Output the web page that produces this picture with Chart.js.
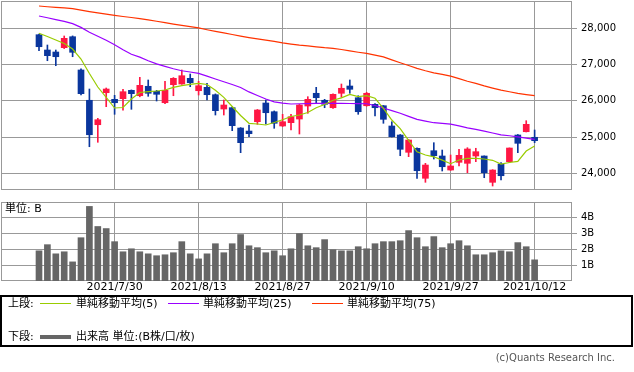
<!DOCTYPE html>
<html lang="ja">
<head>
<meta charset="utf-8">
<title>日足チャート</title>
<script src="https://cdn.jsdelivr.net/npm/chart.js@4.4.1/dist/chart.umd.min.js"></script>
<style>
    body { margin: 0; background: #fff; }
    #wrap {
        position: relative; width: 634px; height: 372px; overflow: hidden;
        font-family: "DejaVu Sans", "Noto Sans CJK JP", sans-serif;
    }
    #wrap canvas { position: absolute; left: 0; }
    .txt { position: absolute; font-size: 11px; line-height: 13px; color: #000; white-space: nowrap; }
    .ln { position: absolute; width: 31px; left: 40px; }
    #legendBox {
        position: absolute; left: 0; top: 295px; width: 633px; height: 52px;
        border: 2px solid #000; box-sizing: border-box;
    }
</style>
</head>
<body>
<div id="wrap">
    <canvas id="priceChart" width="634" height="191" style="top:0"></canvas>
    <canvas id="volumeChart" width="634" height="105" style="top:190px"></canvas>

    <div class="txt" style="left:5px; top:202px;">単位: B</div>

    <div id="legendBox"></div>
    <div class="txt" style="left:8px; top:297px;">上段:</div>
    <div class="ln" style="top:303px; height:1px; background:#99cc00;"></div>
    <div class="txt" style="left:76px; top:297px;">単純移動平均(5)</div>
    <div class="ln" style="left:168px; top:303px; height:1px; background:#9900ff;"></div>
    <div class="txt" style="left:203px; top:297px;">単純移動平均(25)</div>
    <div class="ln" style="left:312px; top:303px; height:1px; background:#ff3300;"></div>
    <div class="txt" style="left:347px; top:297px;">単純移動平均(75)</div>

    <div class="txt" style="left:8px; top:330px;">下段:</div>
    <div class="ln" style="top:335px; height:4px; background:#666;"></div>
    <div class="txt" style="left:76px; top:330px;">出来高 単位:(B株/口/枚)</div>

    <div class="txt" style="right:19px; top:351px; font-size:10px; color:#555;">(c)Quants Research Inc.</div>
</div>

<script>
// 四本値 (60本)
const opens = [
    27823, 27401, 27346, 27465, 27768, 26850, 26014, 25340, 26223, 26041,
    26058, 26289, 26140, 26400, 26262, 25947, 26444, 26463, 26620, 26278,
    26372, 26168, 25773, 25810, 25249, 25166, 25423, 25939, 25699, 25305,
    25396, 25497, 25856, 26207, 26014, 25809, 26207, 26408, 26085, 25864,
    25903, 25864, 25305, 25056, 24579, 24689, 23862, 24623, 24477, 24090,
    24303, 24275, 24477, 24477, 23751, 24256, 24320, 25056, 25147, 24993
];
const highs = [
    27843, 27539, 27401, 27788, 27790, 26885, 26325, 25517, 26353, 26151,
    26317, 26300, 26648, 26574, 26289, 26538, 26640, 26850, 26739, 26538,
    26483, 26190, 26022, 25830, 25260, 25332, 25760, 26022, 25720, 25627,
    25627, 25900, 26113, 26372, 26041, 26190, 26463, 26574, 26140, 26234,
    25920, 25870, 25423, 25070, 24930, 24700, 24275, 24844, 24642, 24504,
    24662, 24706, 24690, 24480, 24100, 24292, 24700, 25070, 25451, 25194
];
const lows = [
    27382, 27106, 26968, 27440, 27216, 26160, 24733, 24855, 25837, 25627,
    25738, 25765, 26110, 26124, 25994, 25920, 26140, 26455, 26389, 26160,
    26022, 25608, 25608, 25175, 24568, 25009, 25351, 25360, 25241, 25290,
    25194, 25084, 25655, 25931, 25809, 25790, 26096, 26207, 25627, 25850,
    25580, 25379, 25000, 24485, 24458, 23861, 23751, 24394, 24063, 24080,
    24201, 24016, 24320, 23878, 23649, 23814, 24292, 24568, 25140, 24844
];
const closes = [
    27492, 27244, 27216, 27724, 27338, 26196, 25064, 25478, 26325, 25947,
    26251, 26196, 26427, 26207, 26179, 26289, 26620, 26692, 26499, 26416,
    26168, 25727, 25884, 25313, 24844, 25092, 25746, 25671, 25379, 25423,
    25561, 25884, 26041, 26085, 25903, 26179, 26345, 26317, 25699, 26207,
    25809, 25489, 25009, 24662, 24918, 24071, 24228, 24485, 24181, 24201,
    24496, 24670, 24596, 24016, 24090, 23933, 24697, 24827, 25351, 24899
];

// 移動平均 (画面から読み取り)
const ma5 = [
    27862, 27774, 27677, 27581, 27429, 27153, 26753, 26380, 26091, 25801,
    25815, 26049, 26229, 26251, 26270, 26298, 26372, 26416, 26455, 26483,
    26449, 26289, 26096, 25842, 25594, 25379, 25360, 25332, 25401, 25476,
    25567, 25608, 25677, 25809, 25898, 26016, 26082, 26176, 26116, 26140,
    26069, 25790, 25470, 25233, 24907, 24593, 24504, 24455, 24364, 24264,
    24366, 24413, 24413, 24394, 24358, 24256, 24297, 24330, 24615, 24753
];
const ma25 = [
    28339, 28290, 28238, 28190, 28130, 28025, 27890, 27780, 27670, 27545,
    27410, 27285, 27205, 27105, 27020, 26950, 26885, 26828, 26795, 26755,
    26680, 26600, 26525, 26450, 26365, 26245, 26145, 26050, 25970, 25935,
    25912, 25918, 25922, 25928, 25931, 25931, 25928, 25925, 25922, 25918,
    25870, 25800, 25730, 25655, 25570, 25489, 25440, 25395, 25375, 25358,
    25310, 25255, 25210, 25162, 25112, 25062, 25035, 25007, 24970, 24937
];
const ma75 = [
    28615, 28595, 28578, 28562, 28542, 28500, 28460, 28425, 28390, 28355,
    28325, 28298, 28265, 28232, 28195, 28155, 28115, 28080, 28045, 28010,
    27960, 27915, 27875, 27828, 27785, 27745, 27710, 27675, 27637, 27598,
    27565, 27535, 27515, 27490, 27465, 27448, 27415, 27375, 27340, 27308,
    27260, 27210, 27130, 27050, 26975, 26896, 26830, 26770, 26728, 26680,
    26610, 26540, 26480, 26410, 26350, 26295, 26250, 26205, 26170, 26140
];

// 出来高 (単位: B)
const volumes = [
    1.91, 2.30, 1.72, 1.85, 1.21, 2.74, 4.72, 3.45, 3.32, 2.49,
    1.85, 2.04, 1.85, 1.72, 1.60, 1.66, 1.79, 2.49, 1.72, 1.40,
    1.72, 2.36, 1.79, 2.36, 2.94, 2.23, 2.11, 1.79, 1.91, 1.60,
    2.04, 3.00, 2.23, 2.11, 2.62, 1.98, 1.91, 1.91, 2.17, 2.04,
    2.36, 2.49, 2.49, 2.55, 3.19, 2.74, 2.17, 2.81, 2.11, 2.36,
    2.55, 2.23, 1.66, 1.66, 1.79, 1.91, 1.85, 2.43, 2.17, 1.34
];

// 目盛り
const tickIndex = [9, 19, 29, 39, 49, 59];
const tickLabels = ["2021/7/30", "2021/8/13", "2021/8/27", "2021/9/10", "2021/9/27", "2021/10/12"];
const priceTicks = [24000, 25000, 26000, 27000, 28000];
const volumeTicks = [1, 2, 3, 4];

document.addEventListener('DOMContentLoaded', function() {
    const gridColor = "#999999";
    const fontFamily = '"DejaVu Sans", "Noto Sans CJK JP", sans-serif';
    const upColor = "#ff1744";
    const downColor = "#0a369d";

    // x軸の範囲 (左右の余白込み)
    const xMin = -4.524;
    const xMax = 63.45;

    const candleColors = opens.map((o, i) => closes[i] >= opens[i] ? upColor : downColor);
    const toPoints = arr => arr.map((v, i) => ({ x: i, y: v }));

    // 枠線
    const framePlugin = {
        id: 'frame',
        beforeDatasetsDraw(chart) {
            const { ctx, chartArea: a } = chart;
            ctx.save();
            ctx.strokeStyle = gridColor;
            ctx.lineWidth = 1;
            ctx.strokeRect(Math.round(a.left) + 0.5, Math.round(a.top) + 0.5,
                Math.round(a.right - a.left) - 1, Math.round(a.bottom - a.top) - 1);
            ctx.restore();
        }
    };

    const noPad = s => { s.paddingTop = 0; s.paddingBottom = 0; s.paddingLeft = 0; s.paddingRight = 0; };

    const xScale = (showLabels) => ({
        type: 'linear',
        min: xMin,
        max: xMax,
        offset: false,
        afterBuildTicks: s => { s.ticks = tickIndex.map(v => ({ value: v })); },
        afterFit: s => { s.height = showLabels ? 14 : 0; noPad(s); },
        ticks: {
            display: showLabels,
            padding: 0,
            maxRotation: 0,
            autoSkip: false,
            color: "#000",
            font: { family: fontFamily, size: 11 },
            callback: v => tickLabels[tickIndex.indexOf(v)]
        },
        grid: { color: gridColor, drawTicks: false, offset: false },
        border: { display: false }
    });

    // 上段: ローソク足 + 移動平均
    new Chart(document.getElementById("priceChart"), {
        type: "bar",
        data: {
            datasets: [
                { type: "line", data: toPoints(ma5), borderColor: "#99cc00", borderWidth: 1.2, pointRadius: 0, order: 0 },
                { type: "line", data: toPoints(ma25), borderColor: "#9900ff", borderWidth: 1.2, pointRadius: 0, order: 0 },
                { type: "line", data: toPoints(ma75), borderColor: "#ff3300", borderWidth: 1.2, pointRadius: 0, order: 0 },
                {
                    data: opens.map((o, i) => ({ x: i, y: [o, closes[i]] })),
                    backgroundColor: candleColors,
                    barThickness: 6,
                    grouped: false,
                    order: 1
                },
                {
                    data: lows.map((l, i) => ({ x: i, y: [l, highs[i]] })),
                    backgroundColor: candleColors,
                    barThickness: 1,
                    grouped: false,
                    order: 2
                }
            ]
        },
        options: {
            responsive: false,
            animation: false,
            events: [],
            layout: { padding: { top: 1, left: 1, right: 0, bottom: 1 } },
            plugins: { legend: { display: false }, tooltip: { enabled: false } },
            scales: {
                x: xScale(false),
                y: {
                    position: "right",
                    min: 23539,
                    max: 28753,
                    afterBuildTicks: s => { s.ticks = priceTicks.map(v => ({ value: v })); },
                    afterFit: s => { s.width = 62; noPad(s); },
                    ticks: {
                        padding: 4,
                        color: "#000",
                        font: { family: fontFamily, size: 10 },
                        callback: v => String(v).replace(/\B(?=(\d{3})+(?!\d))/g, ",")
                    },
                    grid: { color: gridColor, tickLength: 5 },
                    border: { display: false }
                }
            }
        },
        plugins: [framePlugin]
    });

    // 下段: 出来高
    new Chart(document.getElementById("volumeChart"), {
        type: "bar",
        data: {
            datasets: [{
                data: toPoints(volumes),
                backgroundColor: "#666666",
                barThickness: 6,
                grouped: false
            }]
        },
        options: {
            responsive: false,
            animation: false,
            events: [],
            layout: { padding: { top: 12, left: 1, right: 0, bottom: 0 } },
            plugins: { legend: { display: false }, tooltip: { enabled: false } },
            scales: {
                x: xScale(true),
                y: {
                    position: "right",
                    min: 0,
                    max: 5,
                    afterBuildTicks: s => { s.ticks = volumeTicks.map(v => ({ value: v })); },
                    afterFit: s => { s.width = 62; noPad(s); },
                    ticks: {
                        padding: 4,
                        color: "#000",
                        font: { family: fontFamily, size: 10 },
                        callback: v => v + "B"
                    },
                    grid: { color: gridColor, tickLength: 5 },
                    border: { display: false }
                }
            }
        },
        plugins: [framePlugin]
    });
});
</script>
</body>
</html>
